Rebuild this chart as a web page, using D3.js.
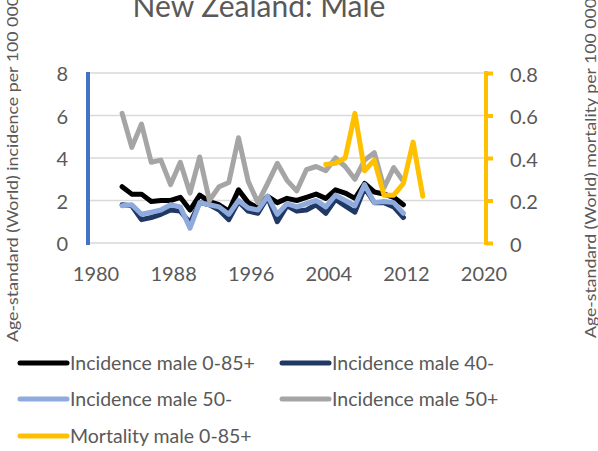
<!DOCTYPE html>
<html>
<head>
<meta charset="utf-8">
<script src="https://cdn.jsdelivr.net/npm/d3@7"></script>
<style>
  body { margin: 0; background: #fff; }
  text { font-family: Lato, "Noto Sans", sans-serif; fill: #595959; }
</style>
</head>
<body>
<script>
(function (){

    //years and series
    var years = d3.range(1983, 2013);
    var mortYears = d3.range(2004, 2015);

    var incAll = [2.65, 2.3, 2.3, 1.95, 2.0, 2.0, 2.15, 1.55, 2.25, 1.95, 1.8, 1.5, 2.5, 1.9, 1.65,
                  2.2, 1.9, 2.1, 2.0, 2.15, 2.3, 2.1, 2.5, 2.35, 2.1, 2.8, 2.4, 2.3, 2.15, 1.8];
    var inc40 = [1.8, 1.75, 1.1, 1.2, 1.35, 1.55, 1.5, 0.95, 1.9, 1.8, 1.55, 1.1, 1.95, 1.5, 1.4,
                 2.15, 1.0, 1.75, 1.5, 1.55, 1.8, 1.4, 2.05, 1.75, 1.45, 2.6, 1.9, 1.9, 1.7, 1.2];
    var inc50u = [1.75, 1.8, 1.35, 1.45, 1.55, 1.8, 1.7, 0.7, 1.9, 1.8, 1.7, 1.35, 2.0, 1.65, 1.55,
                  2.2, 1.35, 1.85, 1.7, 1.85, 2.0, 1.7, 2.25, 2.0, 1.75, 2.75, 1.9, 1.95, 1.9, 1.4];
    var inc50o = [6.1, 4.5, 5.6, 3.8, 3.9, 2.75, 3.8, 2.35, 4.05, 2.0, 2.65, 2.85, 4.95, 2.9, 1.9,
                  2.8, 3.75, 2.95, 2.45, 3.45, 3.6, 3.4, 4.0, 3.6, 3.0, 3.9, 4.25, 2.6, 3.55, 2.9];
    var mortAll = [0.37, 0.375, 0.4, 0.61, 0.34, 0.39, 0.225, 0.225, 0.28, 0.475, 0.22];

    var xTicks = [1980, 1988, 1996, 2004, 2012, 2020];
    var leftTicks = [0, 2, 4, 6, 8];
    var rightTicks = [0, 0.2, 0.4, 0.6, 0.8];

    var series = [
        {name: "Incidence male 0-85+", x: years, y: incAll, color: "#000000", axis: "left"},
        {name: "Incidence male 40-", x: years, y: inc40, color: "#203864", axis: "left"},
        {name: "Incidence male 50-", x: years, y: inc50u, color: "#8FAADC", axis: "left"},
        {name: "Incidence male 50+", x: years, y: inc50o, color: "#A5A5A5", axis: "left"},
        {name: "Mortality male 0-85+", x: mortYears, y: mortAll, color: "#FFC000", axis: "right"}
    ];

    var width = 598, height = 451;
    var plotLeft = 88, plotRight = 486, plotTop = 73, plotBottom = 243;

    var svg = d3.select("body").append("svg")
        .attr("width", width)
        .attr("height", height);

    var x = d3.scaleLinear().domain([1980, 2020]).range([93, 481]);
    var yL = d3.scaleLinear().domain([0, 8]).range([plotBottom, plotTop]);
    var yR = d3.scaleLinear().domain([0, 0.8]).range([plotBottom, plotTop]);

    //title (cut at the top edge, as in the original)
    svg.append("text")
        .attr("x", 259)
        .attr("y", 17)
        .attr("text-anchor", "middle")
        .style("font-size", "30px")
        .text("New Zealand: Male");

    //gridlines
    svg.selectAll(".grid")
        .data(leftTicks)
        .enter()
        .append("line")
        .attr("x1", plotLeft)
        .attr("x2", plotRight)
        .attr("y1", function(d){ return yL(d); })
        .attr("y2", function(d){ return yL(d); })
        .attr("stroke", "#D9D9D9")
        .attr("stroke-width", 1.5);

    //series lines
    var line = function(s){
        var yScale = s.axis == "left" ? yL : yR;
        return d3.line()
            .x(function(d){ return x(d[0]); })
            .y(function(d){ return yScale(d[1]); })(d3.zip(s.x, s.y));
    };

    svg.selectAll(".series")
        .data(series)
        .enter()
        .append("path")
        .attr("d", line)
        .attr("fill", "none")
        .attr("stroke", function(d){ return d.color; })
        .attr("stroke-width", 5)
        .attr("stroke-linejoin", "round")
        .attr("stroke-linecap", "round");

    //left axis (blue line, no ticks)
    svg.append("line")
        .attr("x1", plotLeft).attr("x2", plotLeft)
        .attr("y1", plotTop - 1).attr("y2", plotBottom + 2)
        .attr("stroke", "#4472C4")
        .attr("stroke-width", 4);

    //right axis (yellow line with outside ticks)
    var rAxis = d3.axisRight(yR).tickValues(rightTicks).tickSize(7).tickFormat(d3.format(".1~f"));
    var rG = svg.append("g")
        .attr("transform", "translate(" + plotRight + ",0)")
        .call(rAxis);
    rG.select(".domain").remove();
    rG.selectAll(".tick line").attr("stroke", "#FFC000").attr("stroke-width", 4);
    rG.selectAll(".tick text")
        .attr("x", 24)
        .attr("dy", "0.4em")
        .style("font-size", "20px")
        .style("font-family", "Lato, sans-serif")
        .attr("fill", "#595959");
    svg.append("line")
        .attr("x1", plotRight).attr("x2", plotRight)
        .attr("y1", plotTop - 2).attr("y2", plotBottom + 2)
        .attr("stroke", "#FFC000")
        .attr("stroke-width", 4);

    //left tick labels
    svg.selectAll(".ltick")
        .data(leftTicks)
        .enter()
        .append("text")
        .attr("x", 68)
        .attr("y", function(d){ return yL(d); })
        .attr("dy", "0.4em")
        .attr("text-anchor", "end")
        .style("font-size", "20px")
        .text(function(d){ return d; });

    //x tick labels
    svg.selectAll(".xtick")
        .data(xTicks)
        .enter()
        .append("text")
        .attr("x", function(d){ return x(d) + 3; })
        .attr("y", 281)
        .attr("text-anchor", "middle")
        .style("font-size", "20px")
        .text(function(d){ return d; });

    //axis titles
    svg.append("text")
        .attr("transform", "translate(18,169) rotate(-90)")
        .attr("text-anchor", "middle")
        .attr("textLength", 346)
        .attr("lengthAdjust", "spacingAndGlyphs")
        .style("font-size", "16px")
        .text("Age-standard (World) incidence per 100 000");

    svg.append("text")
        .attr("transform", "translate(596,168) rotate(-90)")
        .attr("text-anchor", "middle")
        .attr("textLength", 340)
        .attr("lengthAdjust", "spacingAndGlyphs")
        .style("font-size", "16px")
        .text("Age-standard (World) mortality per 100 000");

    //legend
    var legendPos = [[20, 363], [282, 363], [20, 399], [282, 399], [20, 436]];
    var legend = svg.selectAll(".legend")
        .data(series)
        .enter()
        .append("g")
        .attr("transform", function(d, i){
            return "translate(" + legendPos[i][0] + "," + legendPos[i][1] + ")";
        });
    legend.append("line")
        .attr("x1", 0).attr("x2", 47)
        .attr("stroke", function(d){ return d.color; })
        .attr("stroke-width", 5)
        .attr("stroke-linecap", "round");
    legend.append("text")
        .attr("x", 50)
        .attr("dy", "0.36em")
        .style("font-size", "19.5px")
        .text(function(d){ return d.name; });

})();
</script>
</body>
</html>
